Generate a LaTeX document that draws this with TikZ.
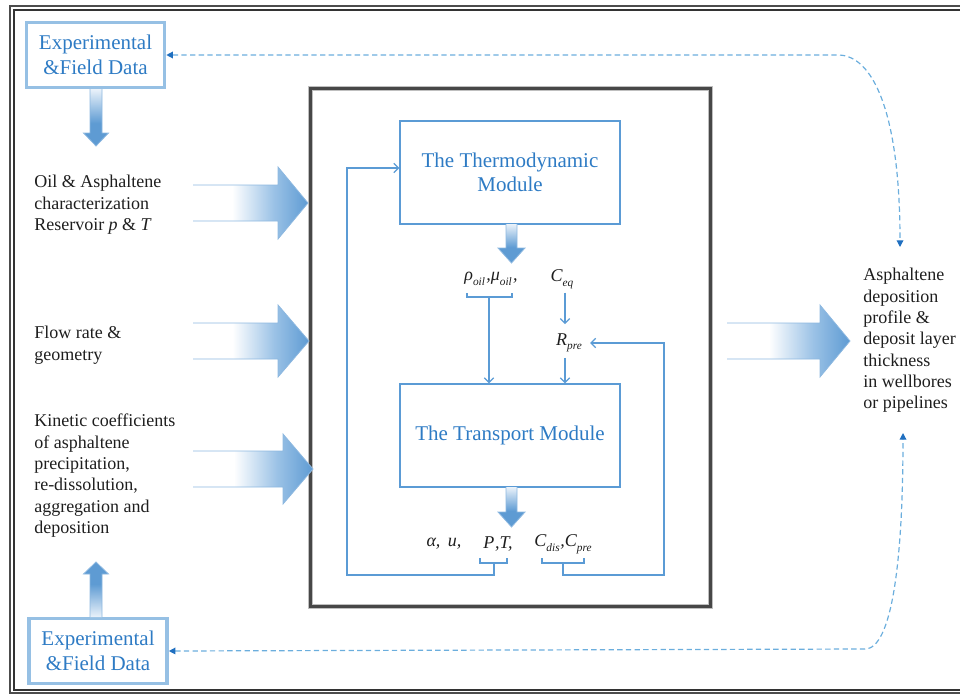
\documentclass[tikz,border=0pt]{standalone}
\usepackage{fontspec}
\setmainfont{Liberation Serif}
\usetikzlibrary{arrows.meta,calc}

\definecolor{linkblue}{HTML}{5B9BD5}
\definecolor{titleblue}{HTML}{2E7BC4}
\definecolor{frameblue}{HTML}{96C0E4}
\definecolor{dashblue}{HTML}{6BAEDD}
\definecolor{tipblue}{HTML}{1F6FC0}
\definecolor{blockblue}{HTML}{5E9BD3}
\definecolor{blockmid}{HTML}{9BC2E6}
\definecolor{blocklight}{HTML}{EAF2FA}
\definecolor{blockedge}{HTML}{8DB8E0}
\definecolor{inktext}{HTML}{1E1E1E}

% fill of the wide arrows: white tail fading into blue
\pgfdeclarehorizontalshading{fadeh}{100bp}{color(0bp)=(white); color(25bp)=(white); color(42bp)=(white); color(60bp)=(blockmid); color(75bp)=(blockblue); color(100bp)=(blockblue)}
\pgfdeclareverticalshading{fadedown}{100bp}{color(0bp)=(blockblue); color(25bp)=(blockblue); color(45bp)=(blockblue); color(75bp)=(blocklight); color(100bp)=(blocklight)}
\pgfdeclareverticalshading{fadeup}{100bp}{color(0bp)=(blocklight); color(25bp)=(blocklight); color(55bp)=(blockblue); color(75bp)=(blockblue); color(100bp)=(blockblue)}

\newcommand{\lsub}[1]{\raisebox{-0.55ex}{\fontsize{8.5pt}{9pt}\selectfont\itshape #1}}

% wide arrow pointing right: x0, head start, tip, centre y, half shaft, half head
\newcommand{\rblock}[6]{%
  \shade[shading=fadeh] (#1,#4-#5) -- (#2,#4-#5) -- (#2,#4-#6) -- (#3,#4) -- (#2,#4+#6) -- (#2,#4+#5) -- (#1,#4+#5) -- cycle;
  \draw[blockline] (#1,#4-#5) -- (#2,#4-#5) -- (#2,#4-#6) -- (#3,#4) -- (#2,#4+#6) -- (#2,#4+#5) -- (#1,#4+#5);}
% vertical arrow: centre x, tail y, head start y, tip y, half shaft, half head, shading
\newcommand{\vblock}[7]{%
  \shade[shading=#7] (#1-#5,#2) -- (#1-#5,#3) -- (#1-#6,#3) -- (#1,#4) -- (#1+#6,#3) -- (#1+#5,#3) -- (#1+#5,#2) -- cycle;
  \draw[blockline] (#1-#5,#2) -- (#1-#5,#3) -- (#1-#6,#3) -- (#1,#4) -- (#1+#6,#3) -- (#1+#5,#3) -- (#1+#5,#2);}

\tikzset{
  blockline/.style={draw=blockedge, line width=0.6pt, line join=miter},
  sidetext/.style={font=\fontsize{13.5pt}{16pt}\selectfont, text=inktext, align=left, inner sep=0pt, anchor=north west},
  expbox/.style={draw=frameblue, line width=2.7pt, text=titleblue, align=center,
    font=\fontsize{15.75pt}{18.75pt}\selectfont, minimum width=103.5pt, minimum height=48.75pt, inner sep=0pt},
  modbox/.style={draw=linkblue, line width=1.1pt, text=titleblue, align=center,
    font=\fontsize{15.75pt}{18pt}\selectfont, minimum width=165pt, minimum height=77.25pt, inner sep=0pt},
  mathlbl/.style={font=\fontsize{13.5pt}{15pt}\selectfont\itshape, text=inktext, inner sep=1pt},
  link/.style={draw=linkblue, line width=0.9pt},
  linkarrow/.style={link, -{Straight Barb[length=3.5pt,width=7pt]}},
  dashlink/.style={draw=dashblue, line width=0.9pt, dash pattern=on 4pt off 2.5pt,
    {Triangle[length=5pt,width=5pt,color=tipblue]}-{Triangle[length=5pt,width=5pt,color=tipblue]}}
}

\begin{document}
\begin{tikzpicture}[x=0.75pt, y=-0.75pt]
\useasboundingbox (0,0) rectangle (960,696);

% page frame
\draw[black!70, line width=0.9pt] (10,6) rectangle (1000,693);
\draw[black!80, line width=1.5pt] (13.5,9.5) rectangle (997,689.5);

% data sources
\node[expbox] (ex1) at (95.5,55) {Experimental\\\&Field Data};
\node[expbox] (ex2) at (98,651) {Experimental\\\&Field Data};

% model frame
\draw[black!25, line width=4pt] (310.5,88.5) rectangle (710.5,606.5);
\node[draw=black!72, line width=2pt, outer sep=0pt, minimum width=300pt, minimum height=388.5pt] (core) at (510.5,347.5) {};

% modules
\node[modbox] (thermo) at (510,172.5) {The Thermodynamic\\Module};
\node[modbox] (trans) at (510,435.5) {The Transport Module};

% inputs and output
\node[sidetext] (oil) at (34,175) {Oil \& Asphaltene\\characterization\\Reservoir \textit{p} \& \textit{T}};
\node[sidetext] (flow) at (34,326) {Flow rate \&\\geometry};
\node[sidetext] (kin) at (34,414) {Kinetic coefficients\\of asphaltene\\precipitation,\\re-dissolution,\\aggregation and\\deposition};
\node[sidetext] (res) at (863,268) {Asphaltene\\deposition\\profile \&\\deposit layer\\thickness\\in wellbores\\or pipelines};

% wide arrows
\rblock{193}{278}{308}{203}{18}{36}
\rblock{193}{278}{309}{341}{18}{36}
\rblock{193}{283}{313}{469}{18}{35}
\rblock{727}{820}{850}{341}{18}{36}

% small arrows
\vblock{96}{89}{133}{146}{6}{12.5}{fadedown}
\vblock{96}{617}{574}{562}{6}{12.5}{fadeup}
\vblock{511.5}{224}{248}{263}{5.5}{13.5}{fadedown}
\vblock{511.5}{487}{512}{527}{5.5}{13.5}{fadedown}

% variables passed between the modules
\node[mathlbl] (rm) at (491,279) {ρ\lsub{oil}\kern1pt,μ\lsub{oil}\kern1pt,};
\node[mathlbl] (ceq) at (562,279) {C\lsub{eq}};
\node[mathlbl] (rpre) at (569,343) {R\lsub{pre}};
\node[mathlbl] (au) at (444,544) {α, \,u,};
\node[mathlbl] (pt) at (498,544) {P\kern0.5pt,T,};
\node[mathlbl] (cc) at (563,544) {C\lsub{dis}\kern0.5pt,C\lsub{pre}};

% brackets
\draw[link] (467,293) -- (467,297) -- (512,297) -- (512,293);
\draw[link] (480,558) -- (480,563) -- (507,563) -- (507,558);
\draw[link] (542,558) -- (542,563) -- (584,563) -- (584,558);
\coordinate (b1) at (489,297);
\coordinate (b2) at (494,563);
\coordinate (b3) at (563,563);
\coordinate (cx) at (565,0);
\coordinate (lp) at (347,168);

\draw[linkarrow] (b1) -- (b1 |- trans.north);
\draw[linkarrow, shorten <=2pt, shorten >=6pt] (ceq.south -| cx) -- (rpre.north -| cx);
\draw[linkarrow, shorten <=3pt] (rpre.south -| cx) -- (trans.north -| cx);
\draw[linkarrow] (b2) -- (494,575) -- (347,575) -- (lp) -- (lp -| thermo.west);
\draw[linkarrow, shorten >=5pt] (b3) -- (563,575) -- (664,575) -- (664,343) -- (rpre.east);

% feedback to the data
\coordinate (rtop) at (900,247);
\coordinate (rbot) at (903,433);
\draw[dashlink] (ex1.east) -- (838,55) .. controls (872,55) and (900,110) .. (rtop);
\draw[dashlink] (ex2.east) -- (865,649) .. controls (892,649) and (903,560) .. (rbot);
\end{tikzpicture}
\end{document}
